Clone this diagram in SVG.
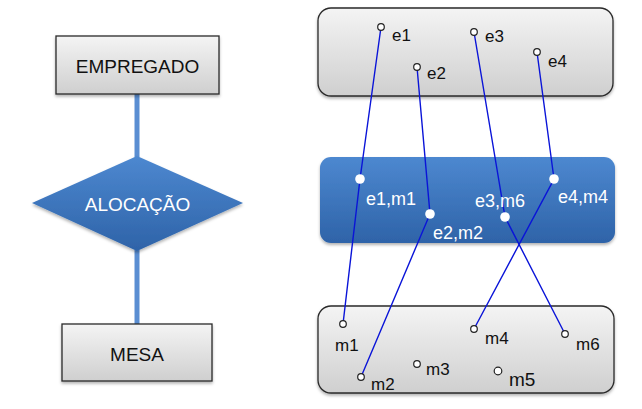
<svg xmlns="http://www.w3.org/2000/svg" width="642" height="409" viewBox="0 0 642 409">
<defs>
<linearGradient id="gray" x1="0" y1="0" x2="0" y2="1">
<stop offset="0" stop-color="#f4f4f4"/>
<stop offset="1" stop-color="#cfcfcf"/>
</linearGradient>
<linearGradient id="blue" x1="0" y1="0" x2="0" y2="1">
<stop offset="0" stop-color="#4d88d0"/>
<stop offset="1" stop-color="#2e63a8"/>
</linearGradient>
<filter id="sh" x="-10%" y="-10%" width="120%" height="130%">
<feDropShadow dx="0" dy="2" stdDeviation="1.5" flood-color="#000" flood-opacity="0.3"/>
</filter>
<style>
.ent{fill:url(#gray);stroke:#2a2a2a;stroke-width:1.3}
.rel{fill:url(#blue);stroke:none}
.lbl{font-family:"Liberation Sans",Arial,sans-serif;font-size:19px;fill:#111;text-anchor:middle}
.wl{font-family:"Liberation Sans",Arial,sans-serif;font-size:19px;fill:#fff;text-anchor:middle}
.sm{font-family:"Liberation Sans",Arial,sans-serif;font-size:17px;fill:#111}
.smw{font-family:"Liberation Sans",Arial,sans-serif;font-size:18px;fill:#fff}
.conn{stroke:#5a8ed2;stroke-width:5;fill:none}
.map{stroke:#0a14d8;stroke-width:1.4;fill:none}
.dot{fill:#fff;stroke:#222;stroke-width:1.2}
.wdot{fill:#fff;stroke:none}
</style>
</defs>
<g id="connectors">
<line class="conn" x1="137" y1="94" x2="137" y2="157"/>
<line class="conn" x1="137" y1="250" x2="137" y2="324"/>
</g>
<g id="empregado">
<rect class="ent" x="56" y="36" width="163" height="58" filter="url(#sh)"/>
<text class="lbl" x="137.5" y="73">EMPREGADO</text>
</g>
<g id="alocacao">
<polygon class="rel" points="137,156 243,203 137,251 32,203" filter="url(#sh)"/>
<text class="wl" x="137.5" y="211">ALOCAÇÃO</text>
</g>
<g id="mesa">
<rect class="ent" x="62" y="324" width="150" height="57" filter="url(#sh)"/>
<text class="lbl" x="137" y="361">MESA</text>
</g>
<g id="set-empregado">
<rect class="ent" x="318" y="8" width="295" height="88" rx="13" filter="url(#sh)"/>
</g>
<g id="set-alocacao">
<rect class="rel" x="320" y="157" width="295" height="86" rx="11" filter="url(#sh)"/>
</g>
<g id="set-mesa">
<rect class="ent" x="318" y="306" width="296" height="87" rx="13" filter="url(#sh)"/>
</g>
<g id="mappings">
<polyline class="map" points="381,27 360,179 343,324"/>
<polyline class="map" points="417,67 430,214 361,377"/>
<polyline class="map" points="474,32 505,217 565,334"/>
<polyline class="map" points="537,52 554,179 474,329"/>
</g>
<g id="elements">
<circle class="dot" cx="381" cy="27" r="3.3"/><text class="sm" x="392" y="41">e1</text>
<circle class="dot" cx="417" cy="67" r="3.3"/><text class="sm" x="427" y="79">e2</text>
<circle class="dot" cx="474" cy="32" r="3.3"/><text class="sm" x="485" y="42">e3</text>
<circle class="dot" cx="537" cy="52" r="3.3"/><text class="sm" x="548" y="67">e4</text>
<circle class="wdot" cx="360" cy="179" r="4.8"/><text class="smw" x="366" y="205">e1,m1</text>
<circle class="wdot" cx="430" cy="214" r="4.8"/><text class="smw" x="433" y="239">e2,m2</text>
<circle class="wdot" cx="505" cy="217" r="4.8"/><text class="smw" x="475" y="207">e3,m6</text>
<circle class="wdot" cx="554" cy="179" r="4.8"/><text class="smw" x="558" y="203">e4,m4</text>
<circle class="dot" cx="343" cy="324" r="3.3"/><text class="sm" x="335" y="351">m1</text>
<circle class="dot" cx="361" cy="377" r="3.3"/><text class="sm" x="371" y="390">m2</text>
<circle class="dot" cx="417" cy="364" r="3.3"/><text class="sm" x="426" y="375">m3</text>
<circle class="dot" cx="474" cy="329" r="3.3"/><text class="sm" x="485" y="344">m4</text>
<circle class="dot" cx="498" cy="371" r="3.8"/><text class="sm" x="509" y="386" style="font-size:19px">m5</text>
<circle class="dot" cx="565" cy="334" r="3.3"/><text class="sm" x="576" y="350">m6</text>
</g>
</svg>
